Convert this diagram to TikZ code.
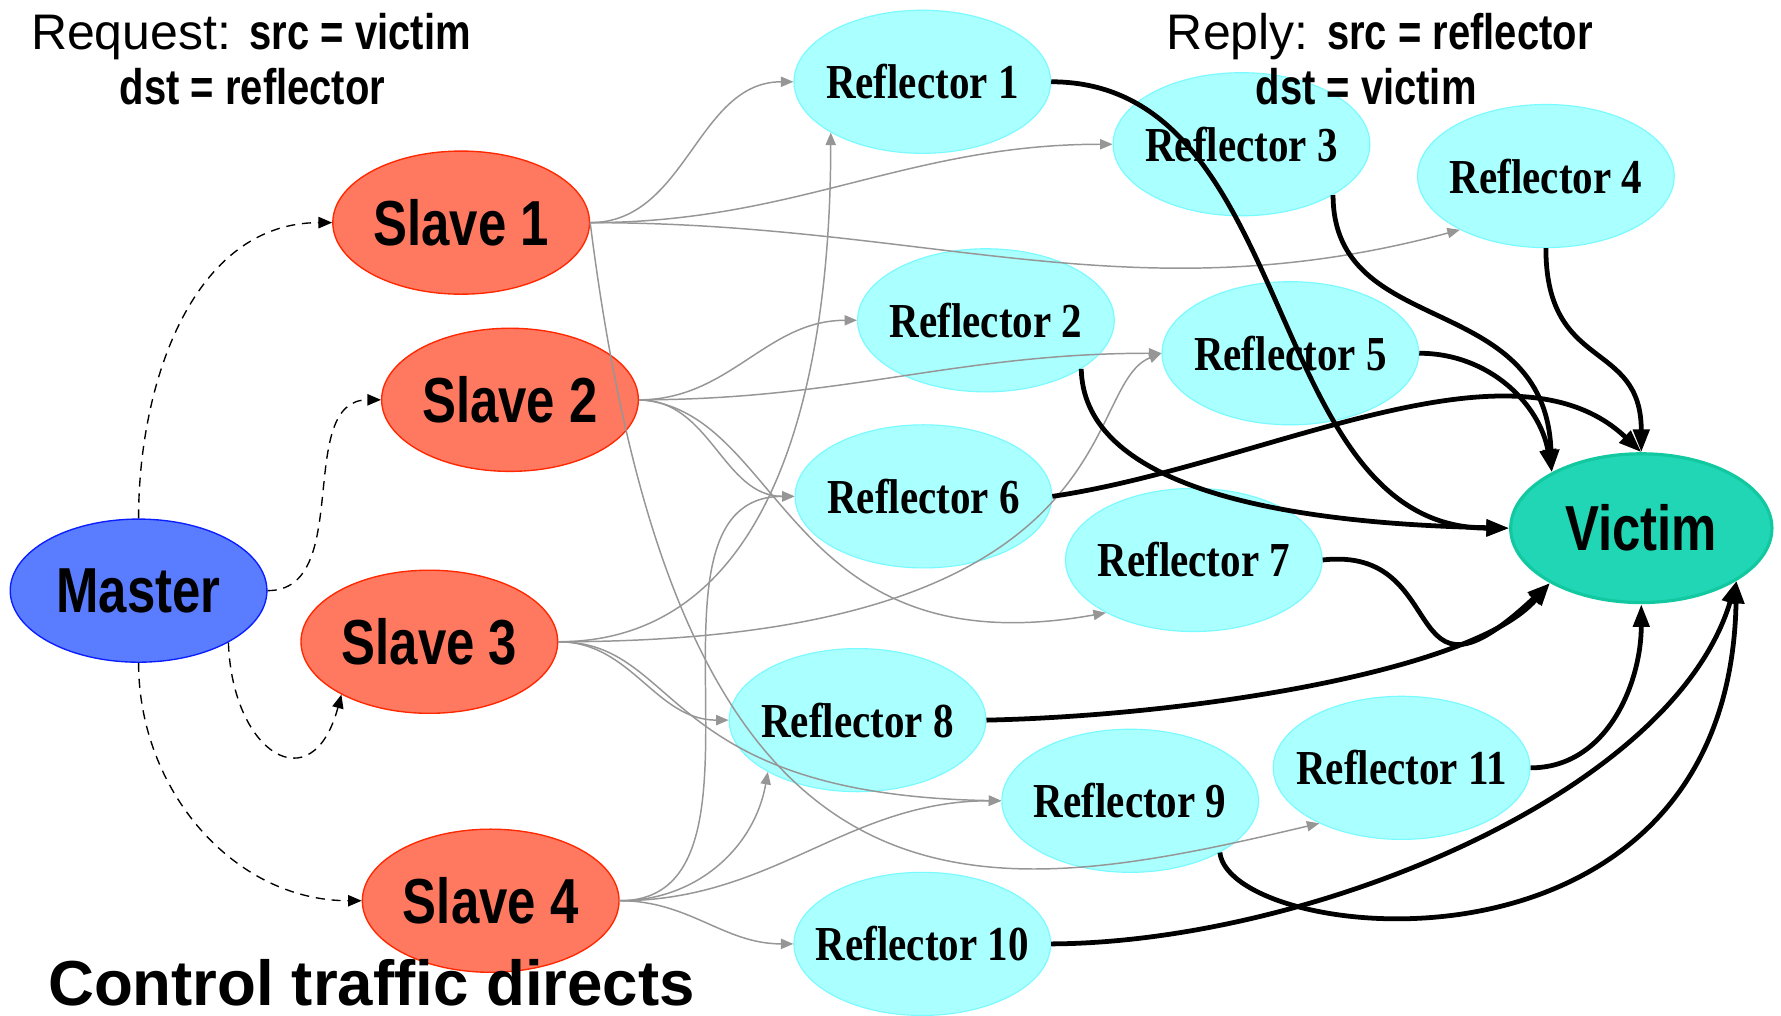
\documentclass[tikz,border=0pt]{standalone}
\usepackage{fontspec}
\setmainfont{Liberation Sans}
\newfontfamily\narrowsans{Liberation Sans}[FakeStretch=0.8]
\newfontfamily\narrowserif{Liberation Serif}[FakeStretch=0.84]
\usetikzlibrary{arrows.meta, shapes.geometric}

\definecolor{slavefill}{RGB}{255,120,96}
\definecolor{slavedraw}{RGB}{255,40,0}
\definecolor{masterfill}{RGB}{90,124,255}
\definecolor{masterdraw}{RGB}{10,30,255}
\definecolor{reflfill}{RGB}{170,255,255}
\definecolor{refldraw}{RGB}{120,250,255}
\definecolor{victimfill}{RGB}{32,214,180}
\definecolor{victimdraw}{RGB}{18,200,160}
\definecolor{reqgray}{RGB}{150,150,150}

\tikzset{
  host/.style={ellipse, inner xsep=-10pt, inner ysep=0pt, minimum width=113pt, minimum height=63pt},
  master/.style={host, draw=masterdraw, fill=masterfill, line width=0.6pt,
    font=\narrowsans\bfseries\fontsize{28}{30}\selectfont},
  slave/.style={host, draw=slavedraw, fill=slavefill, line width=0.6pt,
    font=\narrowsans\bfseries\fontsize{28}{30}\selectfont},
  reflector/.style={host, draw=refldraw, fill=reflfill, line width=0.5pt,
    font=\narrowserif\bfseries\fontsize{21.5}{23}\selectfont},
  victim/.style={host, minimum width=115pt, minimum height=65.5pt, draw=victimdraw,
    fill=victimfill, line width=1.4pt, font=\narrowsans\bfseries\fontsize{28}{30}\selectfont},
  ctrl/.style={-{Triangle[length=6pt,width=5pt]}, dash pattern=on 4pt off 3pt, line width=0.6pt},
  req/.style={-{Triangle[length=5.5pt,width=4.5pt]}, draw=reqgray, line width=0.65pt},
  reply/.style={-{Triangle[length=10pt,width=7pt]}, line width=2.1pt},
  header/.style={anchor=base west, inner sep=0pt, font=\fontsize{22}{24}\selectfont}
}

\begin{document}
\begin{tikzpicture}[x=0.5pt, y=0.5pt]
  \useasboundingbox (0,0) rectangle (1568,-894);

  % hosts
  \node[master] (m) at (122,-520) {Master};
  \node[slave] (s1) at (406,-196) {Slave 1};
  \node[slave] (s2) at (449,-352) {Slave 2};
  \node[slave] (s3) at (378,-565) {Slave 3};
  \node[slave] (s4) at (432,-793) {Slave 4};

  \node[reflector] (r1) at (812,-72) {Reflector 1};
  \node[reflector] (r2) at (868,-282) {Reflector 2};
  \node[reflector] (r3) at (1093,-127) {Reflector 3};
  \node[reflector] (r4) at (1361,-155) {Reflector 4};
  \node[reflector] (r5) at (1136,-311) {Reflector 5};
  \node[reflector] (r6) at (813,-437) {Reflector 6};
  \node[reflector] (r7) at (1051,-493) {Reflector 7};
  \node[reflector] (r8) at (755,-634) {Reflector 8};
  \node[reflector] (r9) at (995,-705) {Reflector 9};
  \node[reflector] (r10) at (812,-831) {Reflector 10};
  \node[reflector] (r11) at (1234,-676) {Reflector 11};

  \node[victim] (v) at (1445,-465) {Victim};

  % control traffic
  \draw[ctrl] (m.north) to[out=90,in=180] (s1.west);
  \draw[ctrl] (m.east) to[out=0,in=180] (s2.west);
  \draw[ctrl] (m.-30) to[out=-88,in=-105,looseness=2.3] (s3.211);
  \draw[ctrl] (m.south) to[out=-90,in=180] (s4.west);

  % requests
  \draw[req] (s1.east) to[out=0,in=180] (r1.west);
  \draw[req] (s1.east) to[out=0,in=180] (r3.west);
  \draw[req] (s1.east) to[out=0,in=195] (r4.212);
  \draw[req] (s1.east) .. controls +(81,-644) and +(-305,-72) .. (r11.214);

  \draw[req] (s2.east) to[out=0,in=180] (r2.west);
  \draw[req] (s2.east) to[out=0,in=180] (r5.west);
  \draw[req] (s2.east) to[out=0,in=180] (r6.west);
  \draw[req] (s2.east) .. controls +(128,-8) and +(-284,-51) .. (r7.211);

  \draw[req] (s3.east) to[out=0,in=-90] (r1.209);
  \draw[req] (s3.east) .. controls +(509,0) and +(-73,-29) .. (r5.west);
  \draw[req] (s3.east) to[out=0,in=180] (r8.west);
  \draw[req] (s3.east) .. controls +(109,0) and +(-302,5) .. (r9.west);

  \draw[req] (s4.east) to[out=0,in=180] (r6.west);
  \draw[req] (s4.east) to[out=0,in=-100] (r8.210);
  \draw[req] (s4.east) to[out=0,in=180] (r9.west);
  \draw[req] (s4.east) to[out=0,in=180] (r10.west);

  % replies
  \draw[reply] (r1.east) to[out=0,in=180] (v.west);
  \draw[reply] (r2.-27) .. controls +(2,-95) and +(-230,5) .. (v.west);
  \draw[reply] (r3.-29) .. controls +(0,-128) and +(-6,162) .. (v.148);
  \draw[reply] (r5.east) to[out=0,in=100] (v.148);
  \draw[reply] (r4.south) .. controls +(0,-110) and +(0,100) .. (v.north);
  \draw[reply] (r6.east) .. controls +(184,27) and +(-115,109) .. (v.north);
  \draw[reply] (r7.east) .. controls +(116,13) and +(-136,-127) .. (v.211);
  \draw[reply] (r8.east) .. controls +(182,4) and +(-66,-77) .. (v.211);
  \draw[reply] (r9.-30) .. controls +(9,-81) and +(-7,-369) .. (v.-29);
  \draw[reply] (r10.east) .. controls +(225,1) and +(-57,-189) .. (v.-29);
  \draw[reply] (r11.east) to[out=0,in=-90] (v.south);

  % headers
  \node[header] (reqsrc) at (27,-44) {Request: {\narrowsans\bfseries src = victim}};
  \node[header] (reqdst) at (105,-92) {\narrowsans\bfseries dst = reflector};
  \node[header] (repsrc) at (1027,-44) {Reply: {\narrowsans\bfseries src = reflector}};
  \node[header] (repdst) at (1105,-92) {\narrowsans\bfseries dst = victim};
  \node[anchor=base west, inner sep=0pt, font=\bfseries\fontsize{28}{30}\selectfont] (caption)
    at (42,-885) {Control traffic directs};
\end{tikzpicture}
\end{document}
